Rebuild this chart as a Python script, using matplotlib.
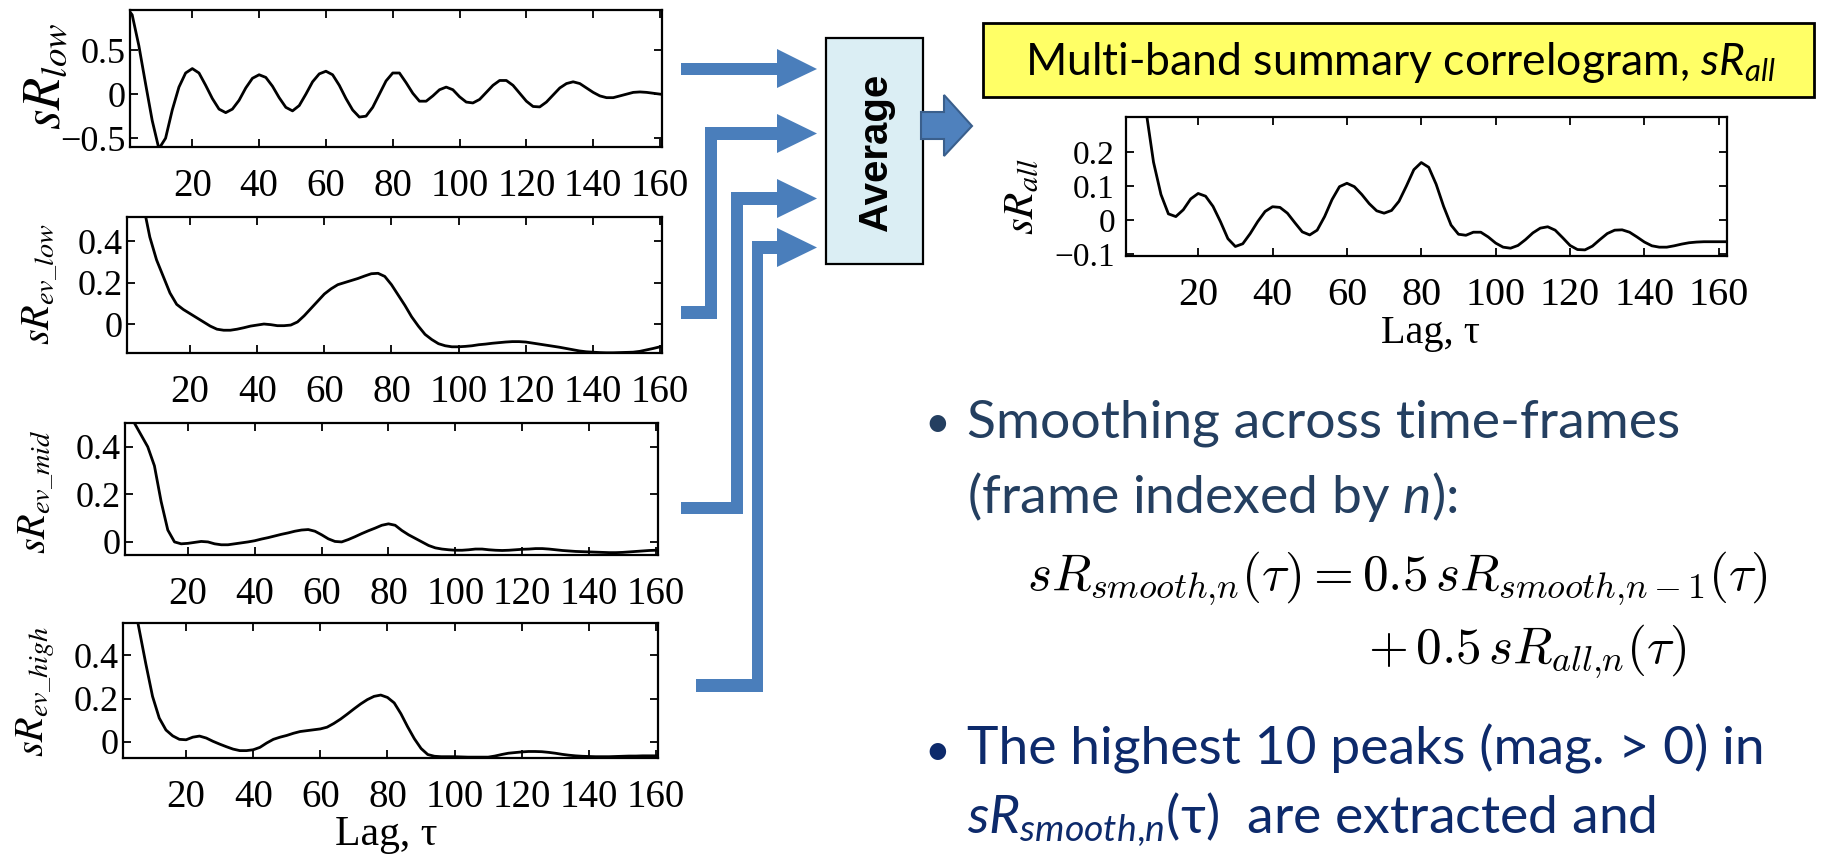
import matplotlib
matplotlib.use("Agg")
import matplotlib.pyplot as plt
from matplotlib.patches import Polygon, Rectangle

plt.rcParams['font.family'] = ['Liberation Serif', 'DejaVu Serif']
plt.rcParams['mathtext.fontset'] = 'custom'
plt.rcParams['mathtext.rm'] = 'Lato'
plt.rcParams['mathtext.it'] = 'Lato:italic'
plt.rcParams['mathtext.bf'] = 'Lato:bold'

# lag axis (samples every 2 lags)
lags = [0] + list(range(2, 161, 2))
lags_all = [0] + list(range(2, 163, 2))

sr_low = [1.0,
          0.90, 0.55, 0.12, -0.30, -0.62,
          -0.50, -0.18, 0.08, 0.24, 0.29,
          0.24, 0.10, -0.05, -0.17, -0.21,
          -0.17, -0.07, 0.07, 0.18, 0.22,
          0.19, 0.09, -0.04, -0.15, -0.19,
          -0.13, 0.0, 0.14, 0.23, 0.26,
          0.22, 0.10, -0.05, -0.18, -0.26,
          -0.25, -0.15, 0.0, 0.15, 0.24,
          0.24, 0.13, 0.01, -0.08, -0.08,
          -0.02, 0.05, 0.08, 0.05, -0.03,
          -0.09, -0.10, -0.06, 0.02, 0.10,
          0.155, 0.155, 0.10, 0.01, -0.08,
          -0.14, -0.145, -0.09, -0.01, 0.07,
          0.12, 0.14, 0.12, 0.07, 0.02,
          -0.02, -0.04, -0.04, -0.02, 0.0,
          0.02, 0.025, 0.02, 0.01, 0.0]

sr_ev_low = [1.0,
             0.90, 0.75, 0.58, 0.42, 0.31,
             0.23, 0.15, 0.095, 0.07, 0.05,
             0.03, 0.01, -0.01, -0.025, -0.03,
             -0.03, -0.025, -0.018, -0.01, -0.005,
             0.0, -0.003, -0.008, -0.008, -0.005,
             0.01, 0.04, 0.075, 0.11, 0.145,
             0.17, 0.19, 0.20, 0.21, 0.22,
             0.232, 0.243, 0.245, 0.23, 0.19,
             0.14, 0.09, 0.035, -0.01, -0.05,
             -0.075, -0.095, -0.105, -0.11, -0.11,
             -0.108, -0.105, -0.10, -0.097, -0.093,
             -0.09, -0.087, -0.085, -0.085, -0.087,
             -0.092, -0.097, -0.102, -0.107, -0.112,
             -0.118, -0.124, -0.13, -0.134, -0.136,
             -0.138, -0.139, -0.139, -0.138, -0.137,
             -0.136, -0.132, -0.125, -0.118, -0.11]

sr_ev_mid = [1.0,
             0.56, 0.50, 0.45, 0.40, 0.32,
             0.17, 0.05, 0.0, -0.008, -0.006,
             -0.002, 0.002, 0.0, -0.008, -0.012,
             -0.012, -0.008, -0.004, 0.0, 0.005,
             0.012, 0.018, 0.025, 0.032, 0.038,
             0.045, 0.05, 0.052, 0.045, 0.03,
             0.013, 0.002, 0.0, 0.01, 0.022,
             0.035, 0.047, 0.058, 0.07, 0.076,
             0.07, 0.048, 0.03, 0.015, 0.0,
             -0.015, -0.025, -0.03, -0.033, -0.035,
             -0.035, -0.033, -0.03, -0.03, -0.033,
             -0.035, -0.036, -0.035, -0.033, -0.031,
             -0.03, -0.028, -0.028, -0.03, -0.033,
             -0.036, -0.038, -0.04, -0.041, -0.042,
             -0.043, -0.044, -0.045, -0.045, -0.044,
             -0.042, -0.04, -0.038, -0.036, -0.035]

sr_ev_high = [1.0,
              0.90, 0.68, 0.52, 0.36, 0.21,
              0.11, 0.055, 0.028, 0.012, 0.01,
              0.022, 0.027, 0.018, 0.003, -0.01,
              -0.022, -0.033, -0.04, -0.04, -0.036,
              -0.025, -0.005, 0.012, 0.022, 0.03,
              0.04, 0.048, 0.052, 0.056, 0.06,
              0.068, 0.085, 0.105, 0.128, 0.152,
              0.175, 0.195, 0.21, 0.216, 0.205,
              0.18, 0.13, 0.07, 0.015, -0.03,
              -0.058, -0.066, -0.068, -0.068, -0.068,
              -0.069, -0.07, -0.07, -0.07, -0.07,
              -0.065, -0.058, -0.052, -0.049, -0.046,
              -0.044, -0.044, -0.045, -0.048, -0.052,
              -0.057, -0.061, -0.064, -0.066, -0.067,
              -0.068, -0.068, -0.068, -0.067, -0.066,
              -0.065, -0.065, -0.064, -0.064, -0.064]

sr_all = [1.0,
          0.90, 0.55, 0.32, 0.17, 0.075,
          0.018, 0.01, 0.03, 0.062, 0.078,
          0.07, 0.04, -0.005, -0.055, -0.078,
          -0.07, -0.04, -0.005, 0.025, 0.039,
          0.037, 0.02, -0.008, -0.035, -0.044,
          -0.03, 0.01, 0.06, 0.098, 0.108,
          0.098, 0.075, 0.048, 0.027, 0.02,
          0.028, 0.055, 0.10, 0.148, 0.169,
          0.155, 0.105, 0.04, -0.015, -0.042,
          -0.045, -0.036, -0.036, -0.05, -0.068,
          -0.08, -0.083, -0.075, -0.058, -0.038,
          -0.024, -0.02, -0.03, -0.052, -0.075,
          -0.087, -0.088, -0.077, -0.058, -0.04,
          -0.03, -0.029, -0.036, -0.05, -0.065,
          -0.076, -0.08, -0.08, -0.076, -0.071,
          -0.067, -0.065, -0.064, -0.064, -0.064,
          -0.064]

xticks = [20, 40, 60, 80, 100, 120, 140, 160]
yt_low = [-0.5, 0, 0.5]
yl_low = ['\u22120.5', '0', '0.5']
yt_ev = [0, 0.2, 0.4]
yl_ev = ['0', '0.2', '0.4']
yt_all = [-0.1, 0, 0.1, 0.2]
yl_all = ['\u22120.1', '0', '0.1', '0.2']

W, H = 1824, 856
fig = plt.figure(figsize=(W / 100, H / 100), dpi=100)
ov = fig.add_axes([0, 0, 1, 1], zorder=0)
ov.set_xlim(0, W)
ov.set_ylim(H, 0)
ov.axis('off')


def px_box(x0, y0, x1, y1):
    return [x0 / W, 1 - y1 / H, (x1 - x0) / W, (y1 - y0) / H]


def panel(box, x, y, xlim, ylim, yt, yl, xsize, ysize, ypad):
    ax = fig.add_axes(px_box(*box))
    ax.plot(x, y, color='black', lw=2.0)
    ax.set_xlim(*xlim)
    ax.set_ylim(*ylim)
    ax.set_xticks(xticks)
    ax.set_yticks(yt, yl)
    ax.tick_params(direction='in', top=True, right=True, length=6, width=1.3)
    ax.tick_params(axis='x', pad=15, labelsize=xsize)
    ax.tick_params(axis='y', pad=ypad, labelsize=ysize)
    for s in ax.spines.values():
        s.set_linewidth(1.6)
    return ax


panel((129.5, 10, 662, 147), lags, sr_low, (1.2, 160.6), (-0.6, 0.955), yt_low, yl_low, 28, 26, 3)
panel((127, 217, 662, 353), lags, sr_ev_low, (1.2, 160.6), (-0.14, 0.517), yt_ev, yl_ev, 28, 26, 3)
panel((125, 423, 658, 555), lags, sr_ev_mid, (1.2, 160.6), (-0.055, 0.50), yt_ev, yl_ev, 28, 26, 3)
panel((123, 623, 658, 758), lags, sr_ev_high, (1.2, 160.6), (-0.074, 0.548), yt_ev, yl_ev, 28, 26, 3)
panel((1126, 117, 1727, 256), lags_all, sr_all, (0.6, 162.2), (-0.106, 0.303), yt_all, yl_all, 29, 24, 8)

# y labels of the panels
for (lx, ly, txt, fs) in [(47, 76, r'$sR_{low}$', 38),
                          (40, 284, r'$sR_{ev\_low}$', 29),
                          (36, 492, r'$sR_{ev\_mid}$', 29),
                          (36, 692, r'$sR_{ev\_high}$', 29),
                          (1023, 197, r'$sR_{all}$', 31)]:
    ov.text(lx, ly, txt, rotation=90, ha='center', va='center', fontsize=fs,
            math_fontfamily='stix')

ov.text(386, 835, 'Lag, \u03c4', fontsize=30, ha='center', va='center')
ov.text(1431, 333, 'Lag, \u03c4', fontsize=29, ha='center', va='center')

# arrows into the average box
blue = '#4A7EBB'
arrows = [
    [(681, 63), (777, 63), (777, 49), (817, 69), (777, 88), (777, 75), (681, 75)],
    [(681, 306), (705, 306), (705, 127), (777, 127), (777, 114), (817, 133.5),
     (777, 153), (777, 140), (717, 140), (717, 319), (681, 319)],
    [(681, 502), (731, 502), (731, 192), (777, 192), (777, 179), (817, 198.5),
     (777, 218), (777, 205), (743, 205), (743, 514), (681, 514)],
    [(696, 679), (752, 679), (752, 241), (777, 241), (777, 228), (817, 247.5),
     (777, 267), (777, 254), (763, 254), (763, 692), (696, 692)],
]
for pts in arrows:
    ov.add_patch(Polygon(pts, closed=True, fc=blue, ec='none'))

ov.add_patch(Rectangle((826, 38), 97, 226, fc='#DBEEF4', ec='black', lw=1.6))
ov.text(876, 152, 'Average', rotation=90, fontsize=29, fontweight='bold',
        family='Liberation Sans', ha='center', va='center')
ov.add_patch(Polygon([(921, 112), (944, 112), (944, 95), (972, 126), (944, 156),
                      (944, 139), (921, 139)], closed=True, fc='#4F81BD',
                     ec='#3A5F8C', lw=1.5))

# title box
ov.add_patch(Rectangle((983, 23), 831, 74, fc='#FFFF66', ec='black', lw=2))
sans = ['Lato', 'DejaVu Sans']
ov.text(1400, 75, r'Multi-band summary correlogram, $\mathit{sR}_{\mathit{all}}$',
        family=sans, fontsize=32, ha='center', va='baseline', math_fontfamily='custom')

# bullet text
c1 = '#243F60'
c2 = '#0D2A6B'
ov.text(937, 437, '\u2022', family=sans, fontsize=32, color=c1, ha='center', va='baseline')
ov.text(967, 437, 'Smoothing across time-frames', family=sans, fontsize=38.5,
        color=c1, va='baseline')
ov.text(967, 513, r'(frame indexed by $\mathit{n}$):', family=sans, fontsize=38.5,
        color=c1, va='baseline', math_fontfamily='custom')
ov.text(1027, 590, r'$sR_{smooth{,}n}(\tau) = 0.5\,sR_{smooth{,}n-1}(\tau)$',
        fontsize=37, va='baseline', math_fontfamily='cm')
ov.text(1368, 663, r'$+\,0.5\,sR_{all{,}n}(\tau)$', fontsize=37, va='baseline',
        math_fontfamily='cm')
ov.text(937, 765, '\u2022', family=sans, fontsize=32, color=c2, ha='center', va='baseline')
ov.text(967, 765, 'The highest 10 peaks (mag. > 0) in', family=sans, fontsize=38.5,
        color=c2, va='baseline')
ov.text(967, 833, r'$\mathit{sR}_{\mathit{smooth{,}n}}$' + '(\u03c4)  are extracted and',
        family=sans, fontsize=38.5, color=c2, va='baseline', math_fontfamily='custom')

fig.savefig('out.png', dpi=100)
